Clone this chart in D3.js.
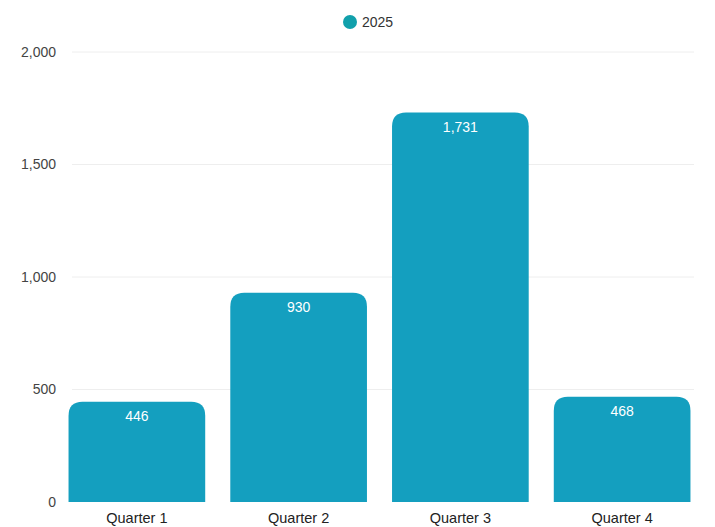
<!DOCTYPE html>
<html>
<head>
<meta charset="utf-8">
<script src="https://cdn.jsdelivr.net/npm/d3@7/dist/d3.min.js"></script>
<style>
  html, body { margin: 0; padding: 0; background: #fff; }
  svg { display: block; font-family: "Liberation Sans", Arial, sans-serif; }
</style>
</head>
<body>
<svg id="chart" width="715" height="527"></svg>
<script>
const categories = ["Quarter 1", "Quarter 2", "Quarter 3", "Quarter 4"];
const values2025 = [446, 930, 1731, 468];
const seriesName = "2025";
const yTicks = [0, 500, 1000, 1500, 2000];

const W = 715, H = 527;
const margin = { top: 52, right: 12, bottom: 25, left: 56 };
const barColor = "#149fbf";

const svg = d3.select("#chart");

const x = d3.scaleBand()
  .domain(categories)
  .range([margin.left, W - margin.right])
  .paddingInner(0.155)
  .paddingOuter(0.0775);

const y = d3.scaleLinear()
  .domain([0, 2000])
  .range([H - margin.bottom, margin.top]);

// gridlines
svg.append("g")
  .selectAll("line")
  .data(yTicks.filter(d => d > 0))
  .join("line")
  .attr("x1", 72).attr("x2", 694)
  .attr("y1", d => y(d)).attr("y2", d => y(d))
  .attr("stroke", "#eeeeee").attr("stroke-width", 1);

// y axis labels
const yAxis = d3.axisLeft(y).tickValues(yTicks).tickSize(0).tickPadding(0)
  .tickFormat(d3.format(","));
svg.append("g")
  .attr("transform", `translate(${margin.left},0)`)
  .call(yAxis)
  .call(g => g.select(".domain").remove())
  .call(g => g.selectAll("text")
    .attr("fill", "#444").attr("font-size", 14)
    .attr("font-family", "Liberation Sans, Arial, sans-serif"));

// bars with rounded top corners
const r = 14;
function barPath(d, i) {
  const x0 = x(categories[i]), w = x.bandwidth();
  const y0 = y(d), yb = y(0);
  const rr = Math.min(r, (yb - y0));
  return `M${x0},${yb}V${y0 + rr}Q${x0},${y0} ${x0 + rr},${y0}H${x0 + w - rr}Q${x0 + w},${y0} ${x0 + w},${y0 + rr}V${yb}Z`;
}
svg.append("g")
  .selectAll("path")
  .data(values2025)
  .join("path")
  .attr("d", barPath)
  .attr("fill", barColor);

// value labels
svg.append("g")
  .selectAll("text")
  .data(values2025)
  .join("text")
  .attr("x", (d, i) => x(categories[i]) + x.bandwidth() / 2)
  .attr("y", d => y(d) + 19)
  .attr("text-anchor", "middle")
  .attr("fill", "#fff")
  .attr("font-size", 14)
  .text(d => d3.format(",")(d));

// x axis labels
const xAxis = d3.axisBottom(x).tickSize(0).tickPadding(0);
svg.append("g")
  .attr("transform", `translate(0,${H - margin.bottom})`)
  .call(xAxis)
  .call(g => g.select(".domain").remove())
  .call(g => g.selectAll("text")
    .attr("dy", "1.45em")
    .attr("fill", "#222").attr("font-size", 14.5)
    .attr("font-family", "Liberation Sans, Arial, sans-serif"));

// legend
const legend = svg.append("g").attr("transform", "translate(350,22)");
legend.append("circle").attr("r", 7).attr("fill", "#11a0ab");
legend.append("text").attr("x", 12).attr("dy", "0.35em")
  .attr("fill", "#333").attr("font-size", 14).text(seriesName);
</script>
</body>
</html>
